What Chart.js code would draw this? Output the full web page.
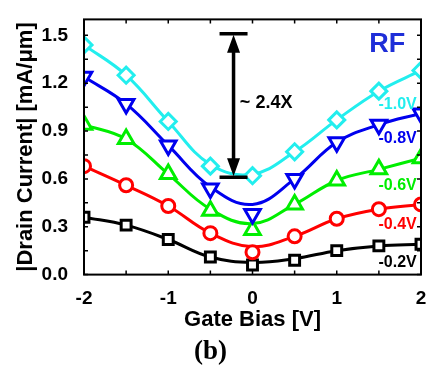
<!DOCTYPE html>
<html>
<head>
<meta charset="utf-8">
<script src="https://cdn.jsdelivr.net/npm/chart.js@4.4.1/dist/chart.umd.min.js"></script>
<style>
html, body { margin: 0; padding: 0; background: #fff; }
</style>
</head>
<body>
<canvas id="myChart" width="441" height="370"></canvas>
<script>
// gate bias points (V)
var gateBias = [-2, -1.5, -1, -0.5, 0, 0.5, 1, 1.5, 2];
var drainLabels = ['-1.0V', '-0.8V', '-0.6V', '-0.4V', '-0.2V'];
var yTickLabels = ['0.0', '0.3', '0.6', '0.9', '1.2', '1.5'];
var xTickLabels = ['-2', '-1', '0', '1', '2'];

// measured |Id| (mA/um), markers
var meas10 = [1.44, 1.25, 0.96, 0.68, 0.62, 0.77, 0.97, 1.15, 1.28];
var meas08 = [1.24, 1.07, 0.81, 0.54, 0.38, 0.60, 0.83, 0.94, 1.01];
var meas06 = [0.94, 0.85, 0.63, 0.40, 0.28, 0.44, 0.59, 0.66, 0.73];
var meas04 = [0.68, 0.56, 0.43, 0.26, 0.14, 0.24, 0.35, 0.41, 0.44];
var meas02 = [0.36, 0.31, 0.22, 0.11, 0.06, 0.09, 0.15, 0.18, 0.19];

// smooth fitted curves read at the same gate bias points
var fit10 = [1.44, 1.25, 0.96, 0.69, 0.63, 0.77, 0.97, 1.15, 1.28];
var fit08 = [1.24, 1.07, 0.81, 0.55, 0.44, 0.60, 0.83, 0.94, 1.01];
var fit06 = [0.94, 0.85, 0.63, 0.41, 0.32, 0.44, 0.59, 0.66, 0.73];
var fit04 = [0.68, 0.56, 0.43, 0.26, 0.175, 0.24, 0.35, 0.41, 0.44];
var fit02 = [0.36, 0.31, 0.22, 0.11, 0.076, 0.10, 0.15, 0.18, 0.19];

var colors = ['#22eeee', '#0000ee', '#00ee00', '#ff0000', '#000000'];
var styles = ['rectRot', 'triangle', 'triangle', 'circle', 'rect'];
var rotations = [0, 180, 0, 0, 0];
var radii = [8, 9, 9, 6.5, 7];

var measAll = [meas10, meas08, meas06, meas04, meas02];
var fitAll = [fit10, fit08, fit06, fit04, fit02];

function pts(arr) {
    var out = [];
    for (var i = 0; i < gateBias.length; i++) out.push({x: gateBias[i], y: arr[i]});
    return out;
}

var datasets = [];
for (var k = 0; k < measAll.length; k++) {
    datasets.push({
        label: drainLabels[k],
        data: pts(measAll[k]),
        showLine: false,
        pointStyle: styles[k],
        pointRotation: rotations[k],
        pointRadius: radii[k],
        pointBorderWidth: 3,
        pointBorderColor: colors[k],
        pointBackgroundColor: '#ffffff',
        clip: 0,
        order: 0
    });
    datasets.push({
        label: drainLabels[k] + ' fit',
        data: pts(fitAll[k]),
        borderColor: colors[k],
        borderWidth: 3,
        pointRadius: 0,
        tension: 0.4,
        clip: 0,
        order: 1
    });
}

// label positions for curves (data coords)
var labelY = [1.068, 0.851, 0.558, 0.311, 0.076];

var decor = {
    id: 'decor',
    afterDatasetsDraw: function(chart) {
        var ctx = chart.ctx;
        var a = chart.chartArea;
        var xs = chart.scales.x, ys = chart.scales.y;
        ctx.save();
        ctx.strokeStyle = '#000';
        ctx.lineWidth = 2;
        ctx.strokeRect(a.left, a.top, a.right - a.left, a.bottom - a.top);
        // inward ticks
        ctx.lineWidth = 1.5;
        ctx.beginPath();
        xs.ticks.forEach(function(t) {
            var px = xs.getPixelForValue(t.value);
            ctx.moveTo(px, a.bottom); ctx.lineTo(px, a.bottom - 4);
            ctx.moveTo(px, a.top); ctx.lineTo(px, a.top + 4);
        });
        ys.ticks.forEach(function(t) {
            var py = ys.getPixelForValue(t.value);
            ctx.moveTo(a.left, py); ctx.lineTo(a.left + 4, py);
            ctx.moveTo(a.right, py); ctx.lineTo(a.right - 4, py);
        });
        ctx.stroke();

        // double arrow showing ratio
        var ax = xs.getPixelForValue(-0.225);
        var y1 = ys.getPixelForValue(1.51);
        var y2 = ys.getPixelForValue(0.61);
        ctx.lineWidth = 3.5;
        ctx.beginPath();
        ctx.moveTo(ax - 14, y1); ctx.lineTo(ax + 14, y1);
        ctx.moveTo(ax - 14, y2); ctx.lineTo(ax + 14, y2);
        ctx.moveTo(ax, y1 + 14); ctx.lineTo(ax, y2 - 14);
        ctx.stroke();
        ctx.fillStyle = '#000';
        ctx.beginPath();
        ctx.moveTo(ax, y1 + 1); ctx.lineTo(ax - 6.5, y1 + 19); ctx.lineTo(ax + 6.5, y1 + 19); ctx.closePath();
        ctx.moveTo(ax, y2 - 1); ctx.lineTo(ax - 6.5, y2 - 19); ctx.lineTo(ax + 6.5, y2 - 19); ctx.closePath();
        ctx.fill();

        ctx.textBaseline = 'middle';
        ctx.textAlign = 'left';
        ctx.font = 'bold 18px "Liberation Sans", Arial, sans-serif';
        ctx.fillText('~ 2.4X', xs.getPixelForValue(-0.15), ys.getPixelForValue(1.074));

        ctx.font = 'bold 27px "Liberation Sans", Arial, sans-serif';
        ctx.fillStyle = '#1e2ed8';
        ctx.textAlign = 'center';
        ctx.fillText('RF', xs.getPixelForValue(1.6), ys.getPixelForValue(1.44));

        ctx.font = 'bold 16px "Liberation Sans", Arial, sans-serif';
        ctx.textAlign = 'right';
        for (var i = 0; i < drainLabels.length; i++) {
            ctx.fillStyle = colors[i];
            ctx.fillText(drainLabels[i], xs.getPixelForValue(1.95), ys.getPixelForValue(labelY[i]));
        }
        ctx.restore();
    }
};

var tickFont = {family: '"Liberation Sans", Arial, sans-serif', size: 19, weight: 'bold'};
var titleFont = {family: '"Liberation Sans", Arial, sans-serif', size: 22, weight: 'bold'};

var ctx = document.getElementById('myChart');
var myChart = new Chart(ctx, {
    type: 'line',
    data: { datasets: datasets },
    plugins: [decor],
    options: {
        responsive: false,
        animation: false,
        devicePixelRatio: 1,
        layout: { padding: { top: 4, right: 20, bottom: 0, left: 0 } },
        plugins: {
            legend: { display: false },
            tooltip: { enabled: false },
            title: {
                display: true,
                position: 'bottom',
                text: '(b)',
                color: '#000',
                font: { family: '"Liberation Serif", "Times New Roman", serif', size: 27, weight: 'bold' },
                padding: { top: 0, bottom: 2 }
            }
        },
        scales: {
            x: {
                type: 'linear',
                min: -2, max: 2,
                grid: { display: false },
                border: { display: false },
                afterFit: function(scale) { scale.height = 61; },
                ticks: {
                    stepSize: 0.5,
                    autoSkip: false,
                    maxRotation: 0,
                    padding: 5,
                    color: '#000',
                    font: tickFont,
                    callback: function(v) {
                        var idx = xTickLabels.indexOf(String(v));
                        return idx >= 0 ? xTickLabels[idx] : '';
                    }
                },
                title: { display: true, text: 'Gate Bias [V]', color: '#000', font: titleFont, padding: { top: 0, bottom: 2 } }
            },
            y: {
                min: 0, max: 1.6,
                grid: { display: false },
                border: { display: false },
                afterFit: function(scale) { scale.width = 84; },
                ticks: {
                    stepSize: 0.15,
                    includeBounds: false,
                    autoSkip: false,
                    padding: 8,
                    color: '#000',
                    font: tickFont,
                    callback: function(v) {
                        var s = v.toFixed(1);
                        var r = v / 0.3;
                        if (Math.abs(r - Math.round(r)) < 1e-6 && yTickLabels.indexOf(s) >= 0) return s;
                        return '';
                    }
                },
                title: { display: true, text: '|Drain Current| [mA/\u03bcm]', color: '#000', font: titleFont, padding: { top: 13, bottom: 0 } }
            }
        }
    }
});
</script>
</body>
</html>
